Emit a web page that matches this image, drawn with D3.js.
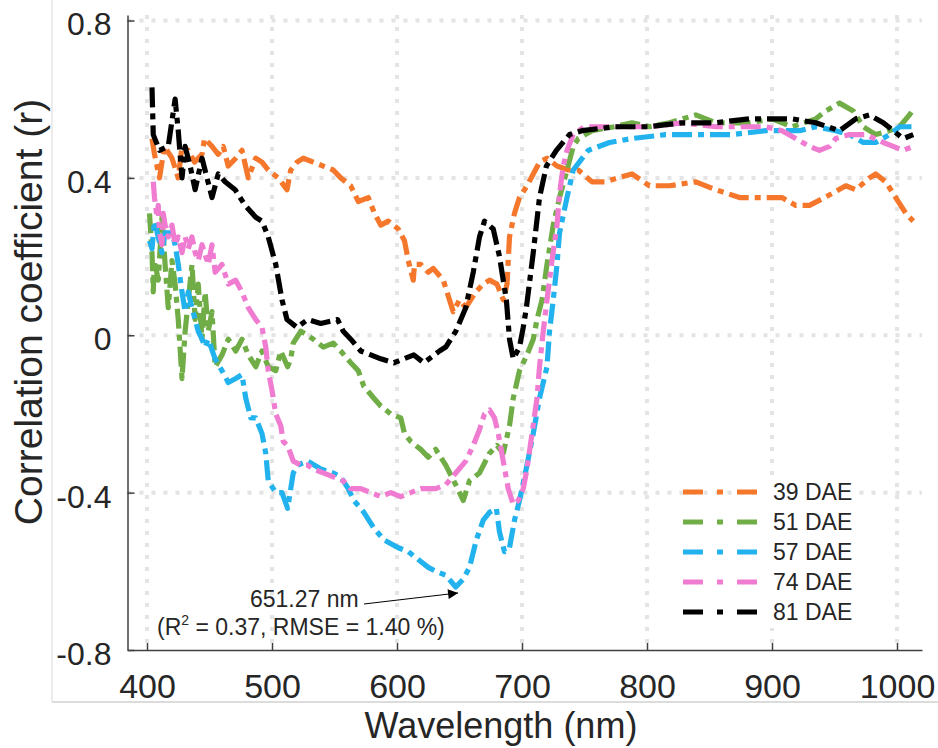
<!DOCTYPE html>
<html lang="en">
<head>
<meta charset="UTF-8">
<title>Correlation coefficient vs wavelength</title>
<script src="https://d3js.org/d3.v7.min.js"></script>
<style>
    body { margin: 0; background: #fff; }
    text { font-family: "Liberation Sans", Arial, sans-serif; fill: #262626; }
</style>
</head>
<body>
<svg id="main" width="938" height="748"></svg>
<script>
    // readings: [wavelength (nm), r]
    const dae39 = [[404,0.50],[406,0.46],[410,0.40],[414,0.48],[420,0.45],[425,0.40],[428,0.48],[433,0.47],[438,0.44],[444,0.46],[446,0.50],[452,0.48],[457,0.46],[461,0.48],[465,0.43],[471,0.45],[476,0.47],[481,0.40],[487,0.45],[492,0.44],[497,0.42],[505,0.40],[512,0.37],[515,0.42],[520,0.44],[525,0.45],[533,0.44],[541,0.43],[549,0.42],[555,0.40],[563,0.38],[569,0.34],[577,0.35],[582,0.31],[587,0.28],[593,0.29],[601,0.27],[606,0.24],[609,0.19],[613,0.14],[614,0.18],[619,0.18],[625,0.16],[629,0.17],[637,0.14],[642,0.09],[645,0.06],[650,0.09],[655,0.07],[663,0.11],[669,0.13],[674,0.14],[680,0.13],[685,0.09],[688,0.13],[690,0.25],[694,0.31],[698,0.35],[704,0.38],[709,0.41],[714,0.44],[720,0.45],[728,0.43],[737,0.42],[745,0.42],[756,0.39],[766,0.39],[788,0.41],[802,0.38],[818,0.38],[839,0.39],[855,0.37],[874,0.35],[895,0.35],[908,0.35],[919,0.33],[930,0.33],[948,0.36],[959,0.38],[967,0.37],[978,0.40],[983,0.41],[991,0.39],[999,0.35],[1007,0.31],[1013,0.29]];
    const dae51 = [[402,0.31],[404,0.21],[405,0.11],[406,0.19],[409,0.14],[412,0.30],[414.5,0.18],[417,0.07],[420,0.19],[422.5,0.13],[425,0.04],[428,-0.11],[430.5,0.01],[436,0.18],[438.5,0.04],[441,0.13],[444,-0.01],[446.5,0.11],[449,0.01],[452,0.06],[454.5,-0.08],[460,-0.05],[465,-0.01],[471,-0.04],[476,-0.01],[481,-0.05],[487,-0.08],[492,-0.04],[497,-0.08],[503,-0.09],[507,-0.04],[512.5,-0.08],[515,-0.06],[517,-0.02],[523,0.01],[528.5,0.0],[533,-0.01],[541,-0.03],[549,-0.02],[555,-0.04],[563,-0.07],[569,-0.09],[573.5,-0.13],[581.5,-0.16],[587,-0.18],[595,-0.20],[603,-0.21],[606,-0.25],[611,-0.27],[619,-0.29],[625,-0.31],[631,-0.29],[639,-0.33],[647,-0.38],[653,-0.42],[658,-0.37],[666,-0.35],[674,-0.30],[680,-0.28],[685,-0.30],[690,-0.23],[693,-0.16],[698,-0.09],[704,-0.05],[709,-0.01],[712,0.04],[716,0.09],[720,0.18],[725,0.28],[730,0.35],[736,0.42],[741,0.48],[745,0.50],[756,0.52],[774,0.53],[788,0.54],[802,0.53],[818,0.54],[839,0.56],[855,0.54],[882,0.54],[900,0.55],[916,0.53],[935,0.55],[943,0.57],[954,0.59],[965,0.57],[973,0.53],[983,0.51],[994,0.52],[1002,0.53],[1010,0.56],[1014,0.58]];
    const dae57 = [[402,0.24],[404,0.22],[406,0.29],[409,0.25],[412,0.21],[414.5,0.26],[420,0.26],[422.5,0.23],[425,0.18],[428,0.11],[430.5,0.06],[433,0.11],[436,0.07],[438.5,0.04],[441,0.01],[444,-0.01],[446.5,-0.03],[449,-0.01],[454.5,-0.06],[460,-0.09],[465,-0.12],[471,-0.11],[476,-0.10],[479,-0.16],[483,-0.21],[487,-0.21],[492,-0.25],[495,-0.30],[497,-0.37],[503,-0.40],[508,-0.40],[512.5,-0.44],[515,-0.39],[517,-0.35],[520.5,-0.33],[528.5,-0.32],[539,-0.34],[549,-0.35],[555,-0.36],[561,-0.39],[565.5,-0.42],[573.5,-0.45],[581.5,-0.49],[589.5,-0.52],[601,-0.54],[609,-0.55],[617,-0.57],[625,-0.59],[631,-0.60],[639,-0.61],[647,-0.64],[653,-0.62],[658,-0.59],[663.5,-0.52],[669,-0.47],[674,-0.45],[679.5,-0.44],[682,-0.50],[686,-0.55],[690,-0.54],[694,-0.47],[698,-0.42],[704,-0.33],[709,-0.25],[714,-0.16],[720,-0.08],[722,0.01],[725,0.09],[728,0.18],[730,0.26],[736,0.35],[741,0.42],[753,0.47],[770,0.49],[788,0.50],[815,0.51],[842,0.51],[868,0.51],[895,0.52],[922,0.52],[935,0.53],[951,0.52],[962,0.51],[973,0.49],[983,0.49],[994,0.51],[1002,0.53],[1013,0.53]];
    const dae74 = [[405,0.39],[406,0.35],[408,0.30],[409,0.33],[410,0.26],[412,0.23],[413,0.31],[414.5,0.28],[417,0.25],[420,0.28],[422.5,0.23],[425,0.25],[428,0.21],[430.5,0.25],[433,0.22],[436,0.25],[438.5,0.21],[441,0.19],[444,0.23],[449,0.18],[452,0.23],[454.5,0.16],[460,0.18],[465,0.13],[471,0.14],[476,0.11],[481,0.07],[487,0.04],[492,0.02],[495,-0.03],[497,-0.09],[500,-0.14],[503,-0.20],[507,-0.23],[509,-0.27],[512.5,-0.28],[517,-0.32],[523,-0.33],[528.5,-0.33],[533,-0.34],[541,-0.35],[549,-0.36],[557,-0.37],[563,-0.39],[571,-0.39],[579,-0.40],[587,-0.41],[595,-0.40],[603,-0.41],[611,-0.40],[619,-0.39],[625,-0.39],[631,-0.39],[639,-0.38],[647,-0.35],[655,-0.32],[661,-0.28],[666,-0.24],[670,-0.20],[674,-0.19],[678,-0.21],[681,-0.25],[685,-0.32],[689,-0.39],[693,-0.43],[697,-0.42],[701,-0.39],[704,-0.34],[708,-0.25],[712,-0.16],[714,-0.08],[717,0.01],[720,0.09],[724,0.19],[728,0.28],[730,0.36],[733,0.43],[736,0.47],[741,0.51],[750,0.53],[761,0.53],[780,0.53],[802,0.53],[828,0.54],[855,0.53],[882,0.53],[895,0.53],[908,0.52],[919,0.50],[930,0.48],[938,0.47],[946,0.48],[951,0.50],[962,0.51],[975,0.51],[989,0.49],[997,0.48],[1005,0.47],[1013,0.48]];
    const dae81 = [[404,0.63],[405,0.51],[410,0.47],[417,0.48],[422.5,0.60],[425,0.52],[428,0.40],[430.5,0.48],[434.5,0.43],[438.5,0.37],[444,0.45],[452,0.35],[457,0.41],[462.5,0.39],[470.5,0.37],[478.5,0.33],[487,0.30],[492,0.29],[497,0.25],[503,0.18],[508,0.09],[512,0.04],[520,0.02],[528.5,0.04],[539,0.03],[552.5,0.04],[557,0.01],[563,-0.01],[571,-0.04],[579,-0.05],[587,-0.06],[597.5,-0.07],[613.5,-0.05],[621.5,-0.07],[634,-0.04],[639,-0.03],[647,0.01],[655,0.07],[661,0.16],[666,0.25],[670,0.29],[677,0.27],[682,0.20],[687.5,0.09],[690,-0.01],[693,-0.06],[698,-0.03],[701,0.02],[703.5,0.07],[709,0.21],[714,0.35],[719.5,0.43],[727.5,0.47],[738,0.51],[748,0.52],[774,0.53],[801.5,0.53],[828,0.54],[854.5,0.54],[882,0.55],[900,0.55],[916,0.55],[935,0.54],[954,0.52],[967,0.55],[978,0.56],[989,0.54],[997,0.52],[1005,0.50],[1013,0.51]];

    const seriesNames = ['39 DAE', '51 DAE', '57 DAE', '74 DAE', '81 DAE'];
    const seriesData = [dae39, dae51, dae57, dae74, dae81];
    const colors = ['#F5772C', '#70AD47', '#22B2EE', '#F07CD2', '#000000'];

    const xTicks = [400, 500, 600, 700, 800, 900, 1000];
    const yTicks = [-0.8, -0.4, 0, 0.4, 0.8];

    // annotation of the best band
    const bestWl = 651.27, bestR = -0.655;
    const bestLabel = '651.27 nm';

    let svg = d3.select('svg#main');

    // faint frame of the pasted figure
    svg.append('line').attr('x1', 52).attr('x2', 52).attr('y1', 0).attr('y2', 702)
        .attr('stroke', '#d9d9d9').attr('stroke-width', 1);
    svg.append('line').attr('x1', 52).attr('x2', 938).attr('y1', 702).attr('y2', 702)
        .attr('stroke', '#d0d0d0').attr('stroke-width', 1.5);

    let xScale = d3.scaleLinear().domain([384.4, 1020]).range([127.5, 922]);
    let yScale = d3.scaleLinear().domain([-0.8, 0.814]).range([650, 15]);

    // grid
    let grid = svg.append('g').attr('stroke', '#e4e4e4').attr('stroke-width', 4)
        .attr('stroke-dasharray', '4,8');
    grid.selectAll('line.v').data(xTicks).enter().append('line').attr('class', 'v')
        .attr('x1', d => xScale(d)).attr('x2', d => xScale(d))
        .attr('y1', yScale.range()[1]).attr('y2', yScale.range()[0]);
    grid.selectAll('line.h').data(yTicks.filter(d => d > -0.8)).enter().append('line').attr('class', 'h')
        .attr('x1', xScale.range()[0]).attr('x2', xScale.range()[1])
        .attr('y1', d => yScale(d)).attr('y2', d => yScale(d));

    // lines
    let line = d3.line().x(d => xScale(d[0])).y(d => yScale(d[1]));
    svg.append('g').selectAll('path').data(seriesData).enter().append('path')
        .attr('d', d => line(d))
        .attr('fill', 'none')
        .attr('stroke', (d, i) => colors[i])
        .attr('stroke-width', 5.2)
        .attr('stroke-linejoin', 'round')
        .attr('stroke-dasharray', '20,6,6,6');

    // axes
    let xAxis = svg.append('g').attr('transform', 'translate(0,' + yScale.range()[0] + ')')
        .call(d3.axisBottom(xScale).tickValues(xTicks).tickSize(-7).tickSizeOuter(0).tickPadding(24)
            .tickFormat(d3.format('d')));
    xAxis.selectAll('text').attr('font-size', 34).attr('font-family', '"Liberation Sans", Arial, sans-serif');
    let yAxis = svg.append('g').attr('transform', 'translate(' + xScale.range()[0] + ',0)')
        .call(d3.axisLeft(yScale).tickValues(yTicks).tickSize(-7).tickSizeOuter(0).tickPadding(16)
            .tickFormat(d => d === 0 ? '0' : d.toFixed(1)));
    yAxis.selectAll('text').attr('font-size', 32).attr('dy', '0.45em')
        .attr('font-family', '"Liberation Sans", Arial, sans-serif');
    svg.selectAll('.domain, .tick line').attr('stroke', '#404040').attr('stroke-width', 1.5);
    svg.selectAll('.tick text').attr('fill', '#262626');

    // axis titles
    svg.append('text').attr('x', 501).attr('y', 738).attr('text-anchor', 'middle')
        .attr('font-size', 36).text('Wavelength (nm)');
    svg.append('text').attr('transform', 'translate(42,312) rotate(-90)').attr('text-anchor', 'middle')
        .attr('font-size', 39).text('Correlation coefficient (r)');

    // annotation
    svg.append('defs').append('marker').attr('id', 'arrow')
        .attr('viewBox', '0 0 10 10').attr('refX', 10).attr('refY', 5)
        .attr('markerWidth', 12).attr('markerHeight', 10).attr('markerUnits', 'userSpaceOnUse')
        .attr('orient', 'auto')
        .append('path').attr('d', 'M0,0 L10,5 L0,10 Z').attr('fill', '#000');
    svg.append('line').attr('x1', 364).attr('y1', 604)
        .attr('x2', xScale(bestWl) - 3).attr('y2', yScale(bestR))
        .attr('stroke', '#000').attr('stroke-width', 1).attr('marker-end', 'url(#arrow)');
    svg.append('text').attr('x', 250).attr('y', 607).attr('font-size', 23).text(bestLabel);
    let stats = svg.append('text').attr('x', 157).attr('y', 635).attr('font-size', 23);
    stats.append('tspan').text('(R');
    stats.append('tspan').attr('font-size', 14).attr('dy', -10).text('2');
    stats.append('tspan').attr('dy', 10).text(' = 0.37, RMSE = 1.40 %)');

    // legend
    let legend = svg.append('g');
    legend.append('rect').attr('x', 762).attr('y', 478).attr('width', 95).attr('height', 150).attr('fill', '#fff');
    let items = legend.selectAll('g').data(seriesNames).enter().append('g')
        .attr('transform', (d, i) => 'translate(683,' + (492 + i * 30) + ')');
    items.append('line').attr('x1', 0).attr('x2', 74).attr('y1', 0).attr('y2', 0)
        .attr('stroke', (d, i) => colors[i]).attr('stroke-width', 5)
        .attr('stroke-dasharray', '20,14,6,14');
    items.append('text').attr('x', 90).attr('dy', '0.36em').attr('font-size', 23).attr('fill', '#000')
        .text(d => d);
</script>
</body>
</html>
